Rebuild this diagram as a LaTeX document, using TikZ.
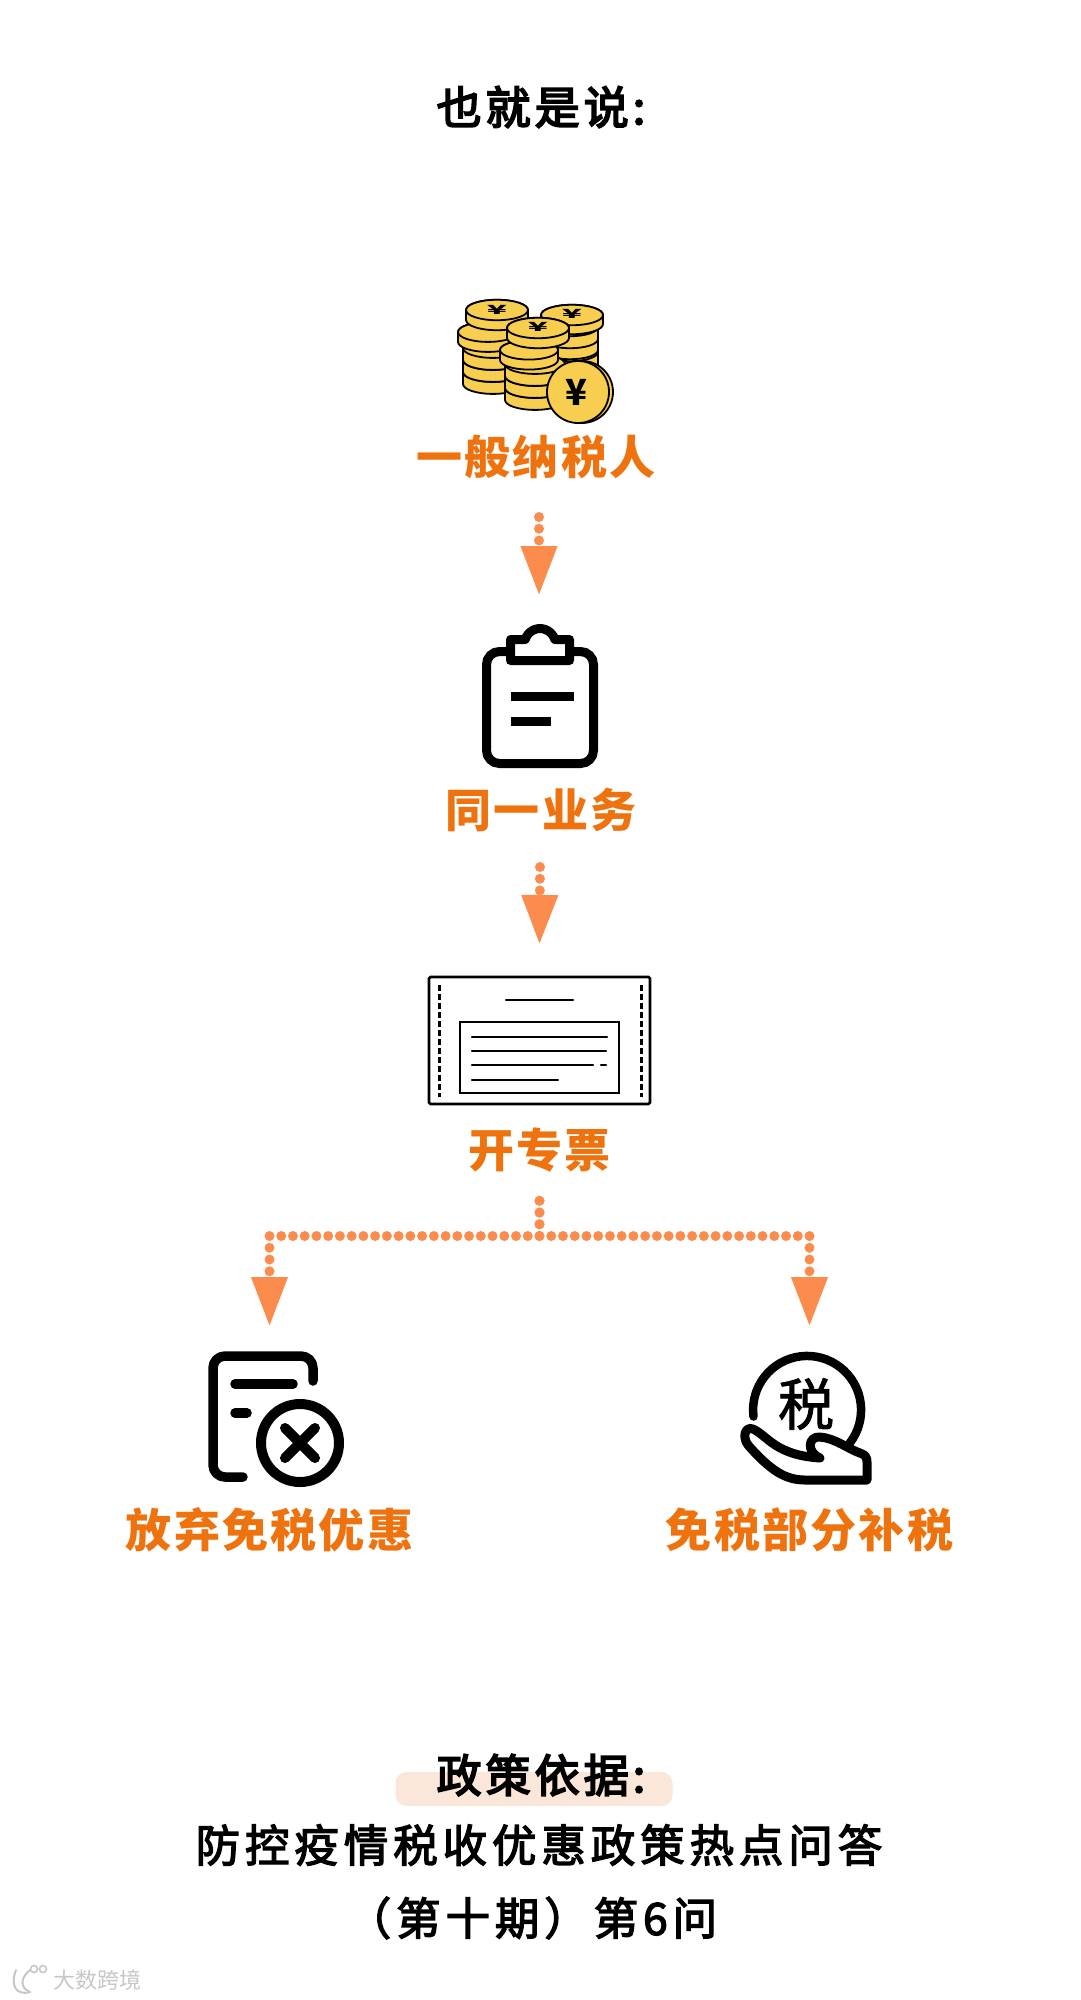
\documentclass[tikz,border=0pt]{standalone}
\usepackage{fontspec}
\setmainfont{Noto Sans CJK SC}
\newfontfamily\headfont[LetterSpace=5]{Noto Sans CJK SC}
\newfontfamily\titlefont[LetterSpace=9,FakeBold=4]{Noto Sans CJK SC}
\newfontfamily\bodyfont[LetterSpace=11,FakeBold=3]{Noto Sans CJK SC}
\newfontfamily\markfont[FakeBold=1.5]{Noto Sans CJK SC}
\usepackage{xcolor}
\usetikzlibrary{arrows.meta, positioning}
\definecolor{labelorange}{HTML}{EE730F}
\definecolor{dotorange}{HTML}{FC8C4E}
\definecolor{coinyellow}{HTML}{F8CE50}
\definecolor{pillpeach}{HTML}{FBE6DA}
\newcommand{\coinlayer}[4]{% x, y, radius, thickness
  \draw[coinline] (#1-#3,#2) -- (#1-#3,#2+#4)
    arc[start angle=180, end angle=360, x radius=#3 pt, y radius=#3*0.33 pt]
    -- (#1+#3,#2)
    arc[start angle=0, end angle=180, x radius=#3 pt, y radius=#3*0.33 pt];
  \draw[coinline] (#1,#2) ellipse[x radius=#3 pt, y radius=#3*0.33 pt];
}

\begin{document}
\begin{tikzpicture}[
    x=1pt, y=-1pt,
    every node/.style={inner sep=0pt, outer sep=0pt},
    % Text styles
    headtext/.style={
      font=\fontsize{45}{50}\selectfont\titlefont,
      minimum height=50pt
    },
    labeltext/.style={
      font=\fontsize{46}{50}\selectfont\headfont\bfseries,
      text=labelorange, minimum height=50pt
    },
    bodytext/.style={
      font=\fontsize{44.5}{50}\selectfont\bodyfont,
      minimum height=50pt
    },
    yenmark/.style={font=\fontsize{30}{30}\selectfont\bfseries, yscale=0.42, xscale=1.1},
    % Icon styles
    iconbox/.style={rectangle, draw=none},
    iconline/.style={line width=9.5pt, line cap=round, line join=round},
    coinline/.style={fill=coinyellow, draw=black, line width=1.8pt},
    ticketline/.style={line width=2.4pt, line cap=round},
    % Arrow styles
    flowarr/.style={
      -{Triangle[length=50pt, width=34pt]}, color=dotorange,
      line width=10pt, line cap=round, dash pattern=on 0pt off 11.74pt
    }
  ]
  \useasboundingbox (0,0) rectangle (1080,2000);

  % ============ Title ============
  \node[headtext] (title) at (541,107) {也就是说:};

  % ============ Coins ============
  \node[iconbox, minimum width=156pt, minimum height=122pt,
    below=168pt of title, xshift=-6pt] (coins) {};
  \coinlayer{570}{352}{28}{12}
  \coinlayer{570}{338}{28}{12}
  \coinlayer{570}{327}{28}{12}
  \coinlayer{572}{315}{31}{9}
  \coinlayer{493}{372}{30}{12}
  \coinlayer{493}{360}{30}{12}
  \coinlayer{493}{348}{30}{12}
  \coinlayer{488}{332}{30}{10}
  \coinlayer{497}{310}{31}{10}
  \coinlayer{535}{388}{30}{12}
  \coinlayer{535}{376}{30}{12}
  \coinlayer{535}{364}{30}{12}
  \coinlayer{529}{350}{29}{10}
  \coinlayer{538}{328}{31}{10}
  \node[yenmark] (yenleft) at (497,310) {¥};
  \node[yenmark] (yenright) at (572,314) {¥};
  \node[yenmark] (yenmid) at (538,327) {¥};
  \draw[coinline] (582,392) circle[radius=31pt];
  \draw[coinline] (578,392) circle[radius=31pt];
  \node[font=\fontsize{36}{36}\selectfont\bfseries] (yenfront) at (576,392) {¥};

  \node[labeltext, below=10pt of coins, xshift=1pt] (general) {一般纳税人};

  % ============ Clipboard ============
  \node[iconbox, minimum width=116pt, minimum height=143pt,
    below=143pt of general, xshift=4pt] (clipboard) {};
  \draw[line width=9pt, rounded corners=13pt] (510,651.5) -- (486.5,651.5) -- (486.5,763.5)
    -- (593.5,763.5) -- (593.5,651.5) -- (570,651.5);
  \draw[line width=9pt, line join=round] (510.5,660.5) -- (510.5,639.5) -- (525.2,639.5)
    arc[start angle=163, end angle=17, radius=15.5pt]
    -- (569.5,639.5) -- (569.5,660.5) -- cycle;
  \draw[line width=9pt] (511,696) -- (574,696);
  \draw[line width=9pt] (511,721) -- (551,721);

  \node[labeltext, below=17pt of clipboard, xshift=1pt] (samebiz) {同一业务};

  % ============ Invoice ============
  \node[iconbox, draw=black, line width=2.6pt, rounded corners=1.5pt,
    minimum width=221pt, minimum height=127pt,
    below=142pt of samebiz, xshift=-1.5pt] (invoice) {};
  \draw[line width=3pt, dash pattern=on 5.5pt off 3.5pt] (439,985) -- (439,1097);
  \draw[line width=3pt, dash pattern=on 5.5pt off 3.5pt] (641,985) -- (641,1097);
  \draw[ticketline] (506,1000) -- (573,1000);
  \draw[line width=2.6pt] (460,1022) rectangle (619,1093);
  \draw[ticketline] (472,1037) -- (607,1037);
  \draw[ticketline] (472,1051) -- (606,1051);
  \draw[ticketline] (472,1065) -- (593,1065);
  \draw[ticketline] (601,1065) -- (606,1065);
  \draw[ticketline] (472,1080) -- (558,1080);

  \node[labeltext, below=21pt of invoice] (ticket) {开专票};
  \coordinate[below=61pt of ticket] (fork);

  % ============ Left branch ============
  \node[iconbox, minimum width=150pt, minimum height=131pt,
    below=115pt of fork, xshift=-270pt] (waive) {};
  \draw[iconline] (313,1381) -- (313,1368) arc[start angle=0, end angle=90, radius=12pt]
    -- (225,1356) arc[start angle=90, end angle=180, radius=12pt]
    -- (213,1465) arc[start angle=180, end angle=270, radius=12pt] -- (243,1477);
  \draw[iconline] (235,1384) -- (293,1384);
  \draw[iconline] (235,1413) -- (247,1413);
  \draw[line width=10pt] (300,1443) circle[radius=39pt];
  \draw[line width=10pt, line cap=round] (285,1428) -- (315,1458);
  \draw[line width=10pt, line cap=round] (315,1428) -- (285,1458);

  \node[labeltext, below=23pt of waive] (waivelabel) {放弃免税优惠};

  % ============ Right branch ============
  \node[iconbox, minimum width=134pt, minimum height=130pt,
    below=116pt of fork, xshift=270pt] (refill) {};
  \draw[line width=8.5pt, line cap=round] (753.5,1416.5)
    arc[start angle=187, end angle=-38, radius=54pt];
  \node[font=\fontsize{56}{56}\selectfont\markfont] (refillmark) at (806,1404) {税};
  \draw[line width=9pt, line join=round, line cap=round, fill=white]
    (753,1429) .. controls (768,1436) and (775,1455) .. (820,1458)
    .. controls (806,1452) and (808,1436) .. (820,1437)
    .. controls (835,1438) and (850,1450) .. (860,1453)
    .. controls (866,1455) and (867,1458) .. (867,1462)
    -- (867,1480) -- (805,1480)
    .. controls (785,1480) and (770,1470) .. (748,1445)
    .. controls (742,1437) and (745,1426) .. (753,1429);

  \node[labeltext, below=23pt of refill] (refilllabel) {免税部分补税};

  % ============ Arrows ============
  \draw[flowarr] ([xshift=3pt, yshift=-35pt]general.south) -- ([xshift=-1pt, yshift=29pt]clipboard.north);
  \draw[flowarr] ([xshift=-1pt, yshift=-32pt]samebiz.south) -- ([yshift=32pt]invoice.north);
  \draw[flowarr] ([yshift=-25.78pt]ticket.south) -- (fork) -| ([yshift=24pt]waive.north);
  \draw[flowarr] ([yshift=-25.78pt]ticket.south) -- (fork) -| ([yshift=25pt]refill.north);

  % ============ Policy basis ============
  \node[rectangle, fill=pillpeach, rounded corners=11pt,
    minimum width=277pt, minimum height=34pt] (pill) at (534,1789) {};
  \node[headtext, xshift=7pt, yshift=14pt] (basis) at (pill) {政策依据:};
  \node[bodytext, below=20pt of basis, xshift=-2pt] (source) {防控疫情税收优惠政策热点问答};
  \node[bodytext, below=23pt of source, xshift=-7pt] (sourcenext) {（第十期）第6问};

  % ============ Watermark ============
  \node[font=\fontsize{22}{22}\selectfont, text=black!22] (mark) at (97,1980) {大数跨境};
  \draw[black!22, line width=2pt, line cap=round] (16,1970) .. controls (10,1985) and (16,1996) .. (30,1992);
  \draw[black!22, line width=2pt, line cap=round] (30,1970) .. controls (20,1978) and (20,1988) .. (30,1992);
  \draw[black!22, line width=1.6pt] (34,1969) circle[radius=3.5pt];
  \draw[black!22, line width=1.6pt] (43,1969) circle[radius=3.5pt];
\end{tikzpicture}
\end{document}
